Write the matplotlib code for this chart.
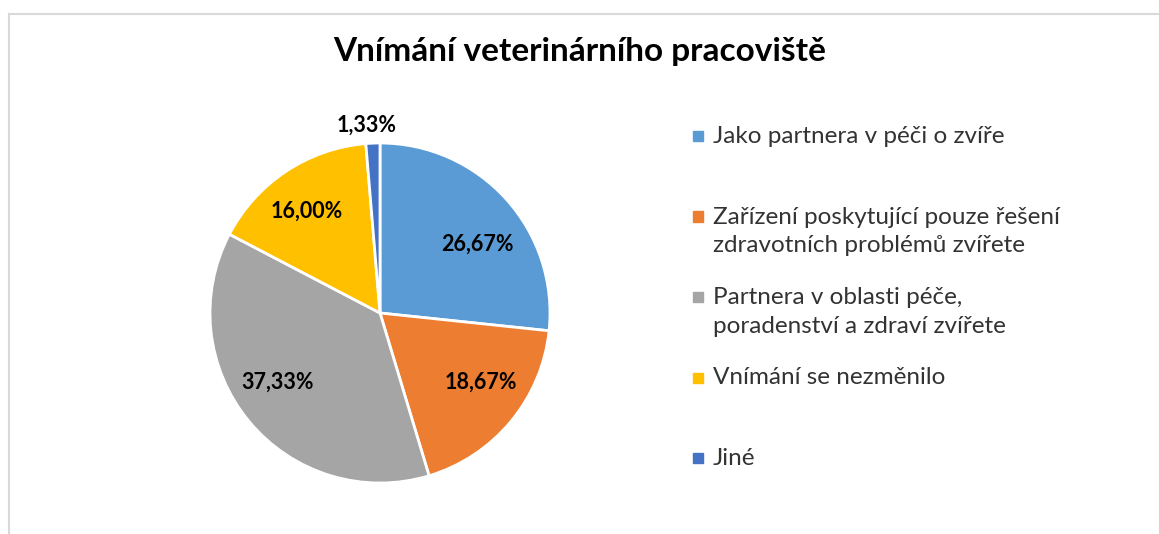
#!/usr/bin/env python3
"""Kolacovy graf: Vnimani veterinarniho pracoviste."""

import matplotlib
matplotlib.use("Agg")
import matplotlib.pyplot as plt
from matplotlib.lines import Line2D

plt.rcParams["font.family"] = ["Lato", "DejaVu Sans"]

W, H = 1159, 534

title = "Vnímání veterinárního pracoviště"
categories = [
    "Jako partnera v péči o zvíře",
    "Zařízení poskytující pouze řešení\nzdravotních problémů zvířete",
    "Partnera v oblasti péče,\nporadenství a zdraví zvířete",
    "Vnímání se nezměnilo",
    "Jiné",
]
values = [26.67, 18.67, 37.33, 16.00, 1.33]
colors = ["#5B9BD5", "#ED7D31", "#A5A5A5", "#FFC000", "#4472C4"]

# umisteni popisku (v jednotkach polomeru, stred kolace = 0,0)
label_pos = [(0.571, 0.406), (0.594, -0.406), (-0.60, -0.406),
             (-0.43, 0.60), (-0.076, 1.106)]


def fmt_pct(v):
    return "{:.2f}%".format(v).replace(".", ",")


fig = plt.figure(figsize=(W / 100, H / 100), dpi=100)

# ramecek grafu (jen horni a leva hrana je videt)
fig.add_artist(Line2D([9 / W, 1], [1 - 14 / H, 1 - 14 / H], color="#D9D9D9", lw=1.5))
fig.add_artist(Line2D([9 / W, 9 / W], [0, 1 - 14 / H], color="#D9D9D9", lw=1.5))

fig.text(580 / W, 1 - 52 / H, title, ha="center", va="center",
         fontsize=24, fontweight="bold", color="#000000")

# kolac: stred (380, 313), polomer 170 px
ax = fig.add_axes([210 / W, 1 - 483 / H, 340 / W, 340 / H])
wedges, texts, autotexts = ax.pie(
    values,
    colors=colors,
    startangle=90,
    counterclock=False,
    autopct=lambda p: "",
    wedgeprops=dict(edgecolor="white", linewidth=2),
)
ax.set_xlim(-1, 1)
ax.set_ylim(-1, 1)
ax.set_aspect("equal")

for v, pos, t in zip(values, label_pos, autotexts):
    t.set_position(pos)
    t.set_text(fmt_pct(v))
    t.set_fontsize(15.5)
    t.set_fontweight("bold")
    t.set_color("#000000")
    t.set_ha("center")
    t.set_va("center")

# legenda
x_mark, x_text = 698, 713
y_top = 136
step = 80.5
for i, (lab, col) in enumerate(zip(categories, colors)):
    y = y_top + i * step
    fig.patches.append(plt.Rectangle(((x_mark - 5) / W, 1 - (y + 5) / H), 10 / W, 10 / H,
                                     transform=fig.transFigure, color=col))
    fig.text(x_text / W, 1 - (y - 10) / H, lab, ha="left", va="top",
             fontsize=17.5, color="#333333", linespacing=1.45)

fig.savefig("out.png", dpi=100)
